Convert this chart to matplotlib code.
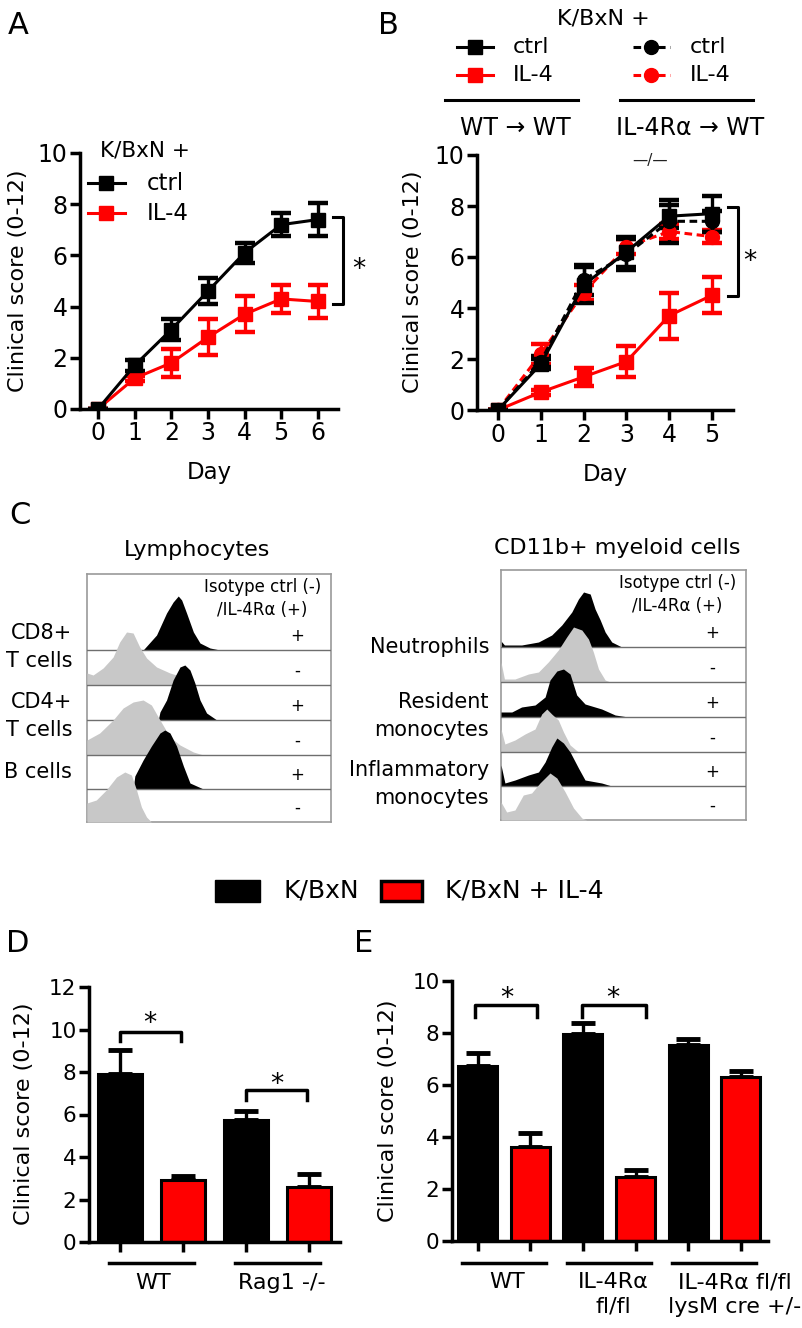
import numpy as np
import matplotlib.pyplot as plt

W, H = 802, 1328

# ---- panel A: clinical score over time
days_a = [0, 1, 2, 3, 4, 5, 6]
a_ctrl = [0, 1.7, 3.1, 4.6, 6.1, 7.2, 7.4]
a_ctrl_err = [0, 0.2, 0.4, 0.5, 0.4, 0.45, 0.65]
a_il4 = [0, 1.2, 1.8, 2.8, 3.7, 4.3, 4.2]
a_il4_err = [0, 0.1, 0.55, 0.7, 0.7, 0.55, 0.65]

# ---- panel B: bone marrow chimeras
days_b = [0, 1, 2, 3, 4, 5]
b_wt_ctrl = [0, 1.8, 4.9, 6.2, 7.6, 7.7]
b_wt_ctrl_err = [0, 0.2, 0.7, 0.6, 0.45, 0.7]
b_wt_il4 = [0, 0.7, 1.3, 1.9, 3.7, 4.5]
b_wt_il4_err = [0, 0.1, 0.35, 0.6, 0.9, 0.7]
b_ko_ctrl = [0, 1.9, 5.1, 6.1, 7.4, 7.4]
b_ko_ctrl_err = [0, 0.2, 0.6, 0.6, 0.85, 0.4]
b_ko_il4 = [0, 2.2, 4.6, 6.4, 7.0, 6.8]
b_ko_il4_err = [0, 0.4, 0.3, 0.3, 0.3, 0.25]

# ---- panel C: flow histograms (x = % of box width, h = height in px)
hist_signs = ['+', '-', '+', '-', '+', '-']
lym_names = ['CD8+\nT cells', 'CD4+\nT cells', 'B cells']
lym_x = [
    [23.0, 28.5, 32.6, 35.3, 37.4, 38.8, 40.8, 43.6, 46.3, 50.4, 54.5],
    [0, 2.5, 6.6, 10.7, 13.4, 16.2, 18.9, 21.6, 24.4, 28.5, 34.0, 36.7, 39.5, 43.6],
    [29.2, 29.9, 32.6, 35.3, 38.1, 40.1, 42.2, 44.2, 46.3, 49.0, 53.2],
    [0, 5.2, 10.7, 14.8, 18.9, 23.0, 26.4, 29.9, 34.0, 38.1, 43.6, 47.7],
    [18.9, 19.6, 23.0, 26.4, 29.9, 31.9, 34.0, 36.7, 39.5, 42.2, 47.7],
    [0, 3.8, 7.9, 12.1, 15.5, 18.2, 20.3, 22.3, 24.4, 26.4],
]
lym_h = [
    [0, 15, 37, 48, 54, 50, 37, 18, 7, 2, 0],
    [12, 10, 17, 28, 43, 53, 52, 38, 27, 18, 12, 10, 3, 0],
    [0, 8, 20, 40, 53, 55, 50, 37, 20, 7, 0],
    [15, 22, 35, 47, 53, 55, 50, 35, 18, 10, 3, 0],
    [0, 13, 29, 43, 56, 59, 56, 43, 23, 6, 0],
    [19, 22, 32, 45, 50, 47, 32, 15, 5, 0],
]
mye_names = ['Neutrophils', 'Resident\nmonocytes', 'Inflammatory\nmonocytes']
mye_x = [
    [0, 1.4, 8.4, 15.3, 20.7, 24.8, 28.9, 31.6, 33.7, 36.4, 38.4, 40.5, 42.5, 45.2, 49.3],
    [0, 1.4, 5.7, 11.2, 15.3, 19.3, 23.4, 26.8, 29.6, 33.0, 35.7, 37.7, 39.8, 42.5, 44.6],
    [0, 4.4, 8.4, 13.9, 18.0, 20.0, 22.8, 25.5, 28.2, 30.9, 34.3, 41.1, 46.6, 52.0],
    [0, 1.6, 5.7, 9.8, 13.9, 16.6, 18.7, 20.7, 23.4, 25.5, 28.2, 31.6],
    [0, 1.6, 5.7, 11.2, 15.3, 18.0, 20.7, 22.8, 25.5, 28.2, 31.6, 34.3, 41.1, 45.2],
    [0, 2.3, 5.7, 9.1, 12.5, 15.9, 20.0, 22.8, 26.2, 29.6, 33.0, 35.0],
]
mye_h = [
    [6, 2, 2, 5, 12, 22, 35, 48, 55, 53, 38, 27, 15, 5, 0],
    [20, 3, 3, 8, 10, 20, 32, 45, 55, 52, 43, 30, 13, 2, 0],
    [5, 5, 10, 12, 20, 37, 46, 48, 43, 22, 13, 8, 2, 0],
    [23, 8, 12, 18, 23, 38, 43, 38, 32, 20, 7, 0],
    [21, 3, 6, 11, 14, 24, 39, 48, 43, 34, 18, 6, 3, 0],
    [18, 8, 10, 25, 27, 37, 47, 42, 28, 12, 2, 0],
]

# ---- panel D
d_groups = ['WT', 'Rag1 -/-']
d_vals = [7.9, 2.9, 5.75, 2.6]
d_err = [1.15, 0.2, 0.4, 0.6]

# ---- panel E
e_groups = ['WT', 'IL-4R\u03b1\nfl/fl', 'IL-4R\u03b1 fl/fl\nlysM cre +/-']
e_vals = [6.75, 3.6, 7.95, 2.45, 7.55, 6.3]
e_err = [0.5, 0.55, 0.45, 0.3, 0.22, 0.25]

RED = '#ff0000'
LW = 2.2

fig = plt.figure(figsize=(W / 100, H / 100), dpi=100)


def add_ax(l, t, r, b):
    return fig.add_axes([l / W, 1 - b / H, (r - l) / W, (b - t) / H])


def style(ax, size):
    for s in ['top', 'right']:
        ax.spines[s].set_visible(False)
    for s in ['left', 'bottom']:
        ax.spines[s].set_linewidth(2.5)
    ax.tick_params(width=2.5, length=7, labelsize=size, pad=2)


# overlay in pixel coords for labels
ov = fig.add_axes([0, 0, 1, 1])
ov.set_xlim(0, W)
ov.set_ylim(H, 0)
ov.axis('off')
ov.set_zorder(10)
ov.patch.set_alpha(0)

for letter, x, y in [('A', 18.5, 26), ('B', 388, 26), ('C', 19.5, 516),
                     ('D', 17.5, 943), ('E', 364, 943)]:
    ov.text(x, y, letter, fontsize=22, ha='center', va='center')

ekw = dict(capsize=7, capthick=3.2, elinewidth=2.4, lw=LW, ms=10)

# ---------- A
axA = add_ax(80, 153, 338, 409)
axA.errorbar(days_a, a_il4, yerr=a_il4_err, fmt='s-', color=RED, **ekw)
axA.errorbar(days_a, a_ctrl, yerr=a_ctrl_err, fmt='s-', color='black', **ekw)
axA.set_xlim(-0.49, 6.55)
axA.set_ylim(0, 10)
axA.set_yticks(range(0, 11, 2))
axA.set_xticks(days_a)
style(axA, 17)
axA.plot([6.41, 6.68, 6.68, 6.41], [7.5, 7.5, 4.1, 4.1], color='black', lw=LW, clip_on=False)
ov.text(359, 277, '*', fontsize=19, ha='center', va='baseline')
ov.text(18, 281, 'Clinical score (0-12)', fontsize=16, rotation=90, ha='center', va='center')
ov.text(209, 473, 'Day', fontsize=16.5, ha='center', va='center')
ov.text(100, 150, 'K/BxN +', fontsize=15.5, ha='left', va='center')
for yy, col, lab in [(183, 'black', 'ctrl'), (213, RED, 'IL-4')]:
    ov.plot([88, 125], [yy, yy], color=col, lw=LW)
    ov.plot([106], [yy], marker='s', color=col, ms=10)
    ov.text(147, yy, lab, fontsize=16.5, ha='left', va='center')

# ---------- B
axB = add_ax(477, 155, 733, 410)
axB.errorbar(days_b, b_ko_il4, yerr=b_ko_il4_err, fmt='o', ls=(0, (2.5, 1.5)), color=RED, **ekw)
axB.errorbar(days_b, b_ko_ctrl, yerr=b_ko_ctrl_err, fmt='o', ls=(0, (2.5, 1.5)), color='black', **ekw)
axB.errorbar(days_b, b_wt_il4, yerr=b_wt_il4_err, fmt='s-', color=RED, **ekw)
axB.errorbar(days_b, b_wt_ctrl, yerr=b_wt_ctrl_err, fmt='s-', color='black', **ekw)
axB.set_xlim(-0.49, 5.49)
axB.set_ylim(0, 10)
axB.set_yticks(range(0, 11, 2))
axB.set_xticks(days_b)
style(axB, 17)
axB.plot([5.37, 5.61, 5.61, 5.37], [7.97, 7.97, 4.47, 4.47], color='black', lw=LW, clip_on=False)
ov.text(750, 269, '*', fontsize=19, ha='center', va='baseline')
ov.text(413, 282, 'Clinical score (0-12)', fontsize=16, rotation=90, ha='center', va='center')
ov.text(605, 475, 'Day', fontsize=16.5, ha='center', va='center')
ov.text(603, 18, 'K/BxN +', fontsize=16, ha='center', va='center')
for yy, col, lab in [(47, 'black', 'ctrl'), (75, RED, 'IL-4')]:
    ov.plot([457, 493], [yy, yy], color=col, lw=LW)
    ov.plot([475], [yy], marker='s', color=col, ms=10)
    ov.text(513, yy, lab, fontsize=16, ha='left', va='center')
    ov.plot([633, 670], [yy, yy], color=col, lw=LW, ls=(0, (2.5, 1.5)))
    ov.plot([651], [yy], marker='o', color=col, ms=10)
    ov.text(690, yy, lab, fontsize=16, ha='left', va='center')
ov.plot([445, 578], [100, 100], color='black', lw=2.2)
ov.plot([620, 753], [100, 100], color='black', lw=2.2)
ov.text(515, 128, 'WT \u2192 WT', fontsize=17, ha='center', va='center')
ov.text(690, 128, 'IL-4R\u03b1 \u2192 WT', fontsize=17, ha='center', va='center')
ov.text(650, 160, '\u2014/\u2014', fontsize=11, ha='center', va='center', color='#222222')

# ---------- C
def hist_box(box, xs, hs, names, name_x, name_ys, bases, title, title_xy):
    l, t, r, b = box
    ax = add_ax(l, t, r, b)
    ax.set_xlim(0, 100)
    ax.set_ylim(0, b - t)
    ax.set_xticks([])
    ax.set_yticks([])
    for s in ax.spines.values():
        s.set_color('#9a9a9a')
        s.set_linewidth(1.2)
    for i, (x, h) in enumerate(zip(xs, hs)):
        base = bases[i]
        col = 'black' if hist_signs[i] == '+' else '#c8c8c8'
        ax.fill_between(x, base, base + np.array(h), color=col, lw=0, zorder=2 + 2 * i)
        if i < 5:
            ax.plot([0, 100], [base, base], color='#6e6e6e', lw=1.0, zorder=3 + 2 * i)
        ax.text(86, base + 14, hist_signs[i], fontsize=12, ha='center', va='center', zorder=30)
    ax.text(72, (b - t) - 13, 'Isotype ctrl (-)', fontsize=12, ha='center', va='center', zorder=30)
    ax.text(72, (b - t) - 36, '/IL-4R\u03b1 (+)', fontsize=12, ha='center', va='center', zorder=30)
    for nm, ny in zip(names, name_ys):
        ov.text(name_x, ny, nm, fontsize=15, ha='right', va='center', linespacing=1.55)
    ov.text(title_xy[0], title_xy[1], title, fontsize=16, ha='center', va='center')


hist_box((87, 574, 331, 822), lym_x, lym_h, lym_names, 72, [647, 716, 772],
         [172, 137, 102, 67, 33, 0], 'Lymphocytes', (197, 550))
hist_box((501, 570, 746, 820), mye_x, mye_h, mye_names, 489, [647, 716, 784],
         [173, 138, 103, 68, 34, 0], 'CD11b+ myeloid cells', (617, 548))

# ---------- legend for D/E
ov.add_patch(plt.Rectangle((215, 880), 45, 22, facecolor='black', edgecolor='black', lw=1))
ov.text(283, 891, 'K/BxN', fontsize=18, ha='left', va='center')
ov.add_patch(plt.Rectangle((381, 881), 41, 20, facecolor=RED, edgecolor='black', lw=2.5))
ov.text(445, 891, 'K/BxN + IL-4', fontsize=18, ha='left', va='center')


def bar_panel(ax, vals, errs, width, groups, line_ext, lab_x, line_y, lab_y, size):
    x = np.arange(len(vals))
    cols = ['black', RED] * (len(vals) // 2)
    ax.errorbar(x, vals, yerr=[np.zeros(len(vals)), errs], fmt='none', ecolor='black',
                elinewidth=2.4, capsize=8.5, capthick=3.5, zorder=1)
    ax.bar(x, vals, width=width, color=cols, edgecolor='black', linewidth=2.2, zorder=2)
    ax.set_xticks(x)
    ax.set_xticklabels([])
    style(ax, size)
    tr = ax.get_xaxis_transform()
    for g, name in enumerate(groups):
        ax.plot([2 * g + line_ext[0], 2 * g + 1 + line_ext[1]], [line_y, line_y], color='black',
                lw=2.5, transform=tr, clip_on=False)
        ax.text(lab_x[g], lab_y, name, fontsize=16, ha='center', va='top', transform=tr,
                linespacing=1.3)


def bracket(ax, x0, x1, top, drop):
    ax.plot([x0, x0, x1, x1], [top - drop, top, top, top - drop], color='black', lw=2.5,
            clip_on=False)


# ---------- D
axD = add_ax(89, 987, 340, 1242)
bar_panel(axD, d_vals, d_err, 0.71, d_groups, (-0.17, 0.17), [0.52, 2.56], -0.082, -0.12, 15.5)
axD.set_xlim(-0.49, 3.49)
axD.set_ylim(0, 12)
axD.set_yticks(range(0, 13, 2))
bracket(axD, 0, 0.97, 9.9, 0.45)
bracket(axD, 2.0, 2.97, 7.17, 0.5)
ov.text(150, 1031, '*', fontsize=19, ha='center', va='baseline')
ov.text(277, 1092, '*', fontsize=19, ha='center', va='baseline')
ov.text(24, 1114, 'Clinical score (0-12)', fontsize=16, rotation=90, ha='center', va='center')

# ---------- E
axE = add_ax(452, 981, 768, 1241)
bar_panel(axE, e_vals, e_err, 0.74, e_groups, (-0.3, 0.3), [0.55, 2.57, 4.89], -0.085, -0.12, 15.5)
axE.set_xlim(-0.49, 5.52)
axE.set_ylim(0, 10)
axE.set_yticks(range(0, 11, 2))
bracket(axE, -0.05, 1.13, 9.08, 0.45)
bracket(axE, 1.98, 3.2, 9.08, 0.45)
ov.text(507, 1006, '*', fontsize=19, ha='center', va='baseline')
ov.text(613, 1006, '*', fontsize=19, ha='center', va='baseline')
ov.text(388, 1111, 'Clinical score (0-12)', fontsize=16, rotation=90, ha='center', va='center')

fig.savefig('out.png', dpi=100)
